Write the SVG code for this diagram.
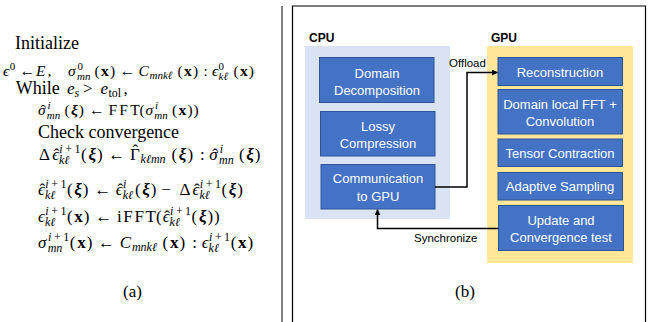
<svg xmlns="http://www.w3.org/2000/svg" width="649" height="322" viewBox="0 0 649 322">
<defs>
<marker id="ah" viewBox="0 0 8 8" refX="7.5" refY="4" markerWidth="6" markerHeight="6" orient="auto" markerUnits="userSpaceOnUse">
<path d="M0,0 L8,4 L0,8 z" fill="#000"/>
</marker>
</defs>
<style>
.m{font-family:"Liberation Serif","DejaVu Serif",serif;font-size:17px;fill:#000}
.t{font-size:18px}
.sm{font-size:15.5px}
.i{font-style:italic}
.b{font-weight:bold}
.bi{font-weight:bold;font-style:italic}
.s{font-size:12px}
.ss{font-size:11px}
.box{fill:#4472c4;stroke:#2f5597;stroke-width:1}
.bt{font-family:"Liberation Sans",Arial,sans-serif;font-size:13px;fill:#fff;text-anchor:middle}
.lbl{font-family:"Liberation Sans",Arial,sans-serif;font-size:12px;font-weight:bold;fill:#000}
.cl{font-family:"Liberation Sans",Arial,sans-serif;font-size:11.5px;fill:#000}
.con{fill:none;stroke:#000;stroke-width:1.5}
</style>
<rect width="649" height="322" fill="#fff"/>
<g id="algorithm">
<text class="m t" x="15" y="49">Initialize</text>
<text class="m sm"><tspan class="i" x="3" y="76">ϵ</tspan><tspan class="ss" x="9.7" y="70">0</tspan><tspan x="19.5" y="76">←</tspan><tspan class="i" x="36" y="76">E</tspan><tspan x="47.5" y="76">,</tspan><tspan class="i" x="68" y="76">σ</tspan><tspan class="ss" x="77.5" y="70">0</tspan><tspan class="ss i" x="77" y="79.5">mn</tspan><tspan x="94.5" y="76">(</tspan><tspan class="b" x="101" y="76">x</tspan><tspan x="110" y="76">)</tspan><tspan x="119.5" y="76">←</tspan><tspan class="i" x="138.5" y="76">C</tspan><tspan class="ss i" x="149.5" y="79">mnkℓ</tspan><tspan x="177.5" y="76">(</tspan><tspan class="b" x="184" y="76">x</tspan><tspan x="193" y="76">)</tspan><tspan x="203.5" y="76">:</tspan><tspan class="i" x="212" y="76">ϵ</tspan><tspan class="ss" x="218.5" y="70">0</tspan><tspan class="ss i" x="218.5" y="79.5">kℓ</tspan><tspan x="233.6" y="76">(</tspan><tspan class="b" x="240" y="76">x</tspan><tspan x="248.8" y="76">)</tspan></text>
<text class="m"><tspan class="t" x="15.7" y="94">While</tspan><tspan class="i" x="67" y="94">e</tspan><tspan class="s i" x="74.5" y="97">s</tspan><tspan x="83" y="94">&gt;</tspan><tspan class="i" x="100.5" y="94">e</tspan><tspan class="s" x="108.5" y="97">tol</tspan><tspan x="123.5" y="94">,</tspan></text>
<text class="m sm"><tspan class="i" x="38" y="115">σ</tspan><tspan x="40.5" y="115">ˆ</tspan><tspan class="ss i" x="47.5" y="109">i</tspan><tspan class="ss i" x="46.7" y="118.5">mn</tspan><tspan x="64.6" y="115">(</tspan><tspan class="bi" x="71" y="115">ξ</tspan><tspan x="78.8" y="115">)</tspan><tspan x="89.1" y="115">←</tspan><tspan x="108.6" y="115" textLength="31">FFT</tspan><tspan x="139.6" y="115">(</tspan><tspan class="i" x="145.6" y="115">σ</tspan><tspan class="ss i" x="155" y="109">i</tspan><tspan class="ss i" x="154.3" y="118.5">mn</tspan><tspan x="172.1" y="115">(</tspan><tspan class="b" x="178.6" y="115">x</tspan><tspan x="187.4" y="115">)</tspan><tspan x="193.4" y="115">)</tspan></text>
<text class="m t" x="38" y="138">Check convergence</text>
<text class="m"><tspan x="39" y="160">Δ</tspan><tspan class="i" x="52.2" y="160">ϵ</tspan><tspan x="53.8" y="160">ˆ</tspan><tspan class="s i" x="59.3" y="153">i</tspan><tspan class="s" x="65.3" y="153">+</tspan><tspan class="s" x="74.5" y="153">1</tspan><tspan class="s i" x="59" y="164">kℓ</tspan><tspan x="81.1" y="160">(</tspan><tspan class="bi" x="88.4" y="160">ξ</tspan><tspan x="96.9" y="160">)</tspan><tspan x="108.3" y="160">←</tspan><tspan x="130" y="160">Γ</tspan><tspan x="132.4" y="155.5">ˆ</tspan><tspan class="s i" x="140.6" y="163">kℓmn</tspan><tspan x="171.5" y="160">(</tspan><tspan class="bi" x="178.8" y="160">ξ</tspan><tspan x="187.5" y="160">)</tspan><tspan x="199.9" y="160">:</tspan><tspan class="i" x="209.3" y="160">σ</tspan><tspan x="212.3" y="160">ˆ</tspan><tspan class="s i" x="219.8" y="153">i</tspan><tspan class="s i" x="219" y="164">mn</tspan><tspan x="238.9" y="160">(</tspan><tspan class="bi" x="246.2" y="160">ξ</tspan><tspan x="254.7" y="160">)</tspan></text>
<text class="m"><tspan class="i" x="38" y="195">ϵ</tspan><tspan x="39.6" y="195">ˆ</tspan><tspan class="s i" x="45.2" y="188">i</tspan><tspan class="s" x="51.2" y="188">+</tspan><tspan class="s" x="60.4" y="188">1</tspan><tspan class="s i" x="44.9" y="199">kℓ</tspan><tspan x="66.9" y="195">(</tspan><tspan class="bi" x="74.2" y="195">ξ</tspan><tspan x="82.7" y="195">)</tspan><tspan x="94.2" y="195">←</tspan><tspan class="i" x="115.8" y="195">ϵ</tspan><tspan x="117.4" y="195">ˆ</tspan><tspan class="s i" x="123" y="188">i</tspan><tspan class="s i" x="122.7" y="199">kℓ</tspan><tspan x="135.1" y="195">(</tspan><tspan class="bi" x="142.3" y="195">ξ</tspan><tspan x="150.8" y="195">)</tspan><tspan x="161.3" y="195">−</tspan><tspan x="179.5" y="195">Δ</tspan><tspan class="i" x="192.5" y="195">ϵ</tspan><tspan x="194.1" y="195">ˆ</tspan><tspan class="s i" x="199.7" y="188">i</tspan><tspan class="s" x="205.7" y="188">+</tspan><tspan class="s" x="214.9" y="188">1</tspan><tspan class="s i" x="199.4" y="199">kℓ</tspan><tspan x="221.5" y="195">(</tspan><tspan class="bi" x="228.8" y="195">ξ</tspan><tspan x="237.3" y="195">)</tspan></text>
<text class="m"><tspan class="i" x="38" y="222">ϵ</tspan><tspan class="s i" x="45.2" y="215">i</tspan><tspan class="s" x="51.2" y="215">+</tspan><tspan class="s" x="60.4" y="215">1</tspan><tspan class="s i" x="44.9" y="226">kℓ</tspan><tspan x="66.9" y="222">(</tspan><tspan class="b" x="74.3" y="222">x</tspan><tspan x="83.8" y="222">)</tspan><tspan x="95.3" y="222">←</tspan><tspan x="116.9" y="222" textLength="39">iFFT</tspan><tspan x="156.1" y="222">(</tspan><tspan class="i" x="162.7" y="222">ϵ</tspan><tspan x="164.3" y="222">ˆ</tspan><tspan class="s i" x="169.9" y="215">i</tspan><tspan class="s" x="175.9" y="215">+</tspan><tspan class="s" x="185.1" y="215">1</tspan><tspan class="s i" x="169.6" y="226">kℓ</tspan><tspan x="191.6" y="222">(</tspan><tspan class="bi" x="198.9" y="222">ξ</tspan><tspan x="207.4" y="222">)</tspan><tspan x="214.1" y="222">)</tspan></text>
<text class="m"><tspan class="i" x="38" y="248">σ</tspan><tspan class="s i" x="48" y="241">i</tspan><tspan class="s" x="54" y="241">+</tspan><tspan class="s" x="63.2" y="241">1</tspan><tspan class="s i" x="47.7" y="252">mn</tspan><tspan x="69.8" y="248">(</tspan><tspan class="b" x="77.2" y="248">x</tspan><tspan x="86.7" y="248">)</tspan><tspan x="98.1" y="248">←</tspan><tspan class="i" x="119.8" y="248">C</tspan><tspan class="s i" x="131.9" y="251">mnkℓ</tspan><tspan x="162.5" y="248">(</tspan><tspan class="b" x="169.9" y="248">x</tspan><tspan x="179.4" y="248">)</tspan><tspan x="192.3" y="248">:</tspan><tspan class="i" x="201.7" y="248">ϵ</tspan><tspan class="s i" x="208.9" y="241">i</tspan><tspan class="s" x="214.9" y="241">+</tspan><tspan class="s" x="224.1" y="241">1</tspan><tspan class="s i" x="208.6" y="252">kℓ</tspan><tspan x="230.7" y="248">(</tspan><tspan class="b" x="238.1" y="248">x</tspan><tspan x="247.6" y="248">)</tspan></text>
<text class="m" x="132.5" y="297" text-anchor="middle">(a)</text>
</g>
<line x1="282" y1="6" x2="282" y2="322" stroke="#808080" stroke-width="2"/>
<path d="M292.5,322 V6 H645.5 V322" fill="none" stroke="#000" stroke-width="1.2"/>
<g id="cpu">
<rect x="305" y="46" width="145" height="173" fill="#dae3f3"/>
<text class="lbl" x="309" y="42">CPU</text>
</g>
<g id="gpu">
<rect x="487" y="46" width="146" height="217" fill="#ffe699"/>
<text class="lbl" x="491" y="42">GPU</text>
</g>
<g id="domain-decomposition">
<rect class="box" x="319.5" y="57.5" width="114.5" height="45"/>
<text class="bt" x="377" y="77.5">Domain</text>
<text class="bt" x="377" y="94.5">Decomposition</text>
</g>
<g id="lossy-compression">
<rect class="box" x="320.5" y="111.5" width="114.5" height="44.5"/>
<text class="bt" x="378" y="130.5">Lossy</text>
<text class="bt" x="378" y="147.5">Compression</text>
</g>
<g id="communication">
<rect class="box" x="321" y="164.5" width="114" height="44.5"/>
<text class="bt" x="378" y="183">Communication</text>
<text class="bt" x="378" y="200.5">to GPU</text>
</g>
<g id="reconstruction">
<rect class="box" x="498" y="57.5" width="124.5" height="28"/>
<text class="bt" x="560" y="77">Reconstruction</text>
</g>
<g id="fft-convolution">
<rect class="box" x="498" y="89.5" width="124.5" height="44.5"/>
<text class="bt" x="560" y="108.5">Domain local FFT +</text>
<text class="bt" x="560" y="125.5">Convolution</text>
</g>
<g id="tensor-contraction">
<rect class="box" x="498" y="139" width="124.5" height="27.5"/>
<text class="bt" x="560" y="158">Tensor Contraction</text>
</g>
<g id="adaptive-sampling">
<rect class="box" x="498" y="172.5" width="124.5" height="27.5"/>
<text class="bt" x="560" y="190.5">Adaptive Sampling</text>
</g>
<g id="update-convergence">
<rect class="box" x="498.5" y="205.5" width="125" height="45"/>
<text class="bt" x="561" y="224.5">Update and</text>
<text class="bt" x="561" y="242">Convergence test</text>
</g>
<g id="connectors">
<path class="con" d="M435,187 H467 V72.5 H497.5" marker-end="url(#ah)"/>
<path class="con" d="M498.5,228.5 H377.5 V209.5" marker-end="url(#ah)"/>
<text class="cl" x="449" y="67">Offload</text>
<text class="cl" x="414" y="242">Synchronize</text>
</g>
<text x="465" y="297" font-family="Liberation Serif,serif" font-size="17" text-anchor="middle">(b)</text>
</svg>
